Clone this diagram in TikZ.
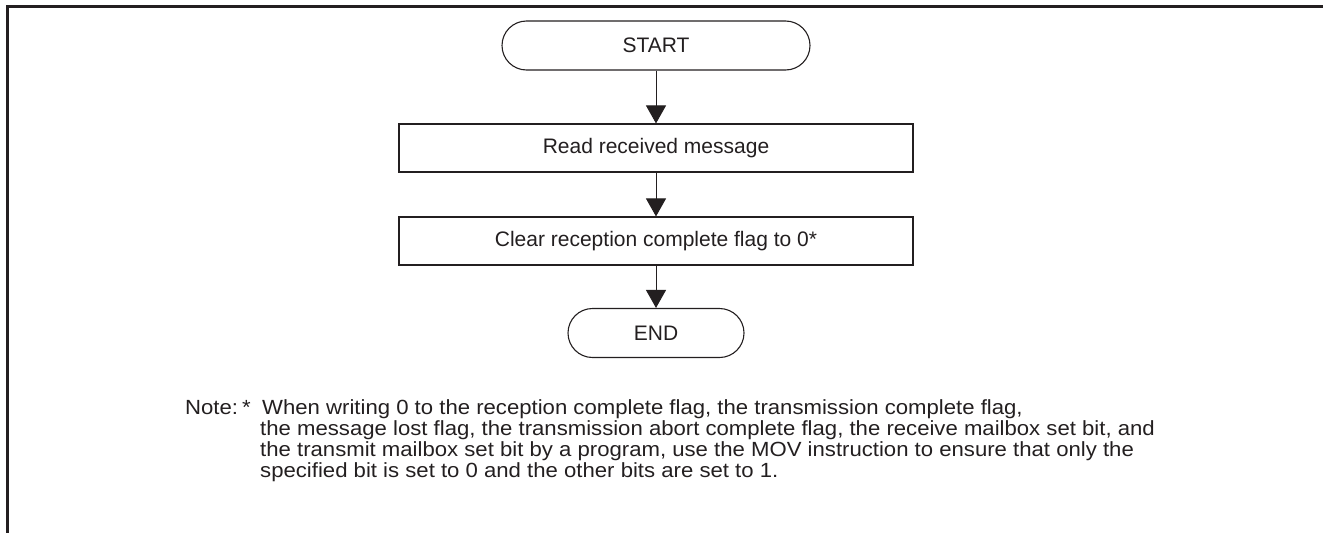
\documentclass[tikz,border=0pt]{standalone}
\usepackage{fontspec}
\setmainfont{Liberation Sans}
\newfontfamily\notefont[FakeStretch=1.08]{Liberation Sans}
\usetikzlibrary{arrows.meta}
\definecolor{ink}{HTML}{231F20}
\tikzset{
  terminal/.style={draw=ink, line width=1.1pt, rounded corners=24.5pt, minimum width=308pt, minimum height=49pt, inner sep=0pt, text=ink, font=\fontsize{21}{24}\selectfont},
  procbox/.style={draw=ink, line width=1.1pt, minimum width=514pt, minimum height=48pt, inner sep=0pt, text=ink, font=\fontsize{21}{24}\selectfont},
  flow/.style={draw=ink, line width=1pt, -{Triangle[length=18pt,width=20pt]}},
  notetext/.style={anchor=base west, inner sep=0pt, text=ink, font=\notefont\fontsize{20.5}{20.5}\selectfont},
}
\begin{document}
\begin{tikzpicture}[x=1pt,y=-1pt]
\useasboundingbox (0,0) rectangle (1323,533);
\draw[line width=3pt, ink, line join=miter] (1323,6) -- (7.5,6) -- (7.5,533);
\node[terminal] (start) at (656,45.5) {START};
\node[procbox] (read) at (656,148) {Read received message};
\node[procbox] (clear) at (656,241) {Clear reception complete flag to 0*};
\node[terminal, minimum width=176pt] (end) at (656,333) {END};
\draw[flow] (start) -- (read);
\draw[flow] (read) -- (clear);
\draw[flow] (clear) -- (end);
\node[notetext] (note) at (185,414) {Note:};
\node[notetext] (star) at (242,414) {*};
\node[notetext] (l1) at (262,414) {When writing 0 to the reception complete flag, the transmission complete flag,};
\node[notetext] (l2) at (260,435) {the message lost flag, the transmission abort complete flag, the receive mailbox set bit, and};
\node[notetext] (l3) at (260,456) {the transmit mailbox set bit by a program, use the MOV instruction to ensure that only the};
\node[notetext] (l4) at (260,477) {specified bit is set to 0 and the other bits are set to 1.};
\end{tikzpicture}
\end{document}
